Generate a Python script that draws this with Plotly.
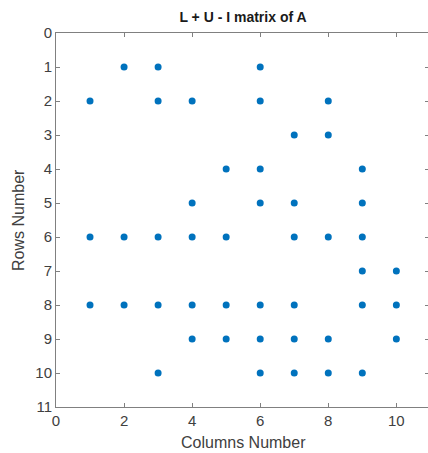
import plotly.graph_objects as go

# Nonzero pattern of L + U - I, listed row by row (1-based indices)
rows = [1, 1, 1,
        2, 2, 2, 2, 2,
        3, 3,
        4, 4, 4,
        5, 5, 5, 5,
        6, 6, 6, 6, 6, 6, 6, 6,
        7, 7,
        8, 8, 8, 8, 8, 8, 8, 8, 8,
        9, 9, 9, 9, 9, 9,
        10, 10, 10, 10, 10]
cols = [2, 3, 6,
        1, 3, 4, 6, 8,
        7, 8,
        5, 6, 9,
        4, 6, 7, 9,
        1, 2, 3, 4, 5, 7, 8, 9,
        9, 10,
        1, 2, 3, 4, 5, 6, 7, 9, 10,
        4, 5, 6, 7, 8, 10,
        3, 6, 7, 8, 9]

x_ticks = [0, 2, 4, 6, 8, 10]
y_ticks = list(range(0, 12))

W, H = 428, 453
ML, MR, MT, MB = 56, 0, 33, 46
axis_col = "#808080"
text_col = "#404040"
font_family = "Liberation Sans, Arial, sans-serif"

fig = go.Figure(
    go.Scatter(
        x=cols, y=rows, mode="markers",
        marker=dict(color="#0072BD", size=7, line=dict(width=0)),
        hoverinfo="x+y",
    )
)

fig.update_layout(
    width=W, height=H,
    margin=dict(l=ML, r=MR, t=MT, b=MB, pad=0),
    paper_bgcolor="white", plot_bgcolor="white",
    showlegend=False,
    font=dict(family=font_family, color=text_col, size=13),
    title=dict(
        text="<b>L + U - I matrix of A</b>",
        x=(243 - ML) / (W - ML - MR), xref="paper", xanchor="center",
        y=1 - 17 / H, yref="container", yanchor="middle",
        font=dict(size=14, color="#1a1a1a", family=font_family),
    ),
    # right-hand tick marks only (the box edge itself sits just past the page)
    yaxis2=dict(
        overlaying="y", side="right", range=[11, 0], tickvals=y_ticks,
        showticklabels=False, showgrid=False, zeroline=False, showline=False,
        ticks="inside", ticklen=3, tickcolor=axis_col, tickwidth=1,
    ),
)

fig.update_xaxes(
    range=[0, 10.93], tickvals=x_ticks, ticktext=[str(v) for v in x_ticks],
    showgrid=False, zeroline=False,
    showline=True, linecolor=axis_col, linewidth=1, mirror="ticks",
    ticks="inside", ticklen=4, tickcolor=axis_col, tickwidth=1,
    tickfont=dict(size=15, color=text_col),
)
fig.update_yaxes(
    selector=dict(anchor="x"),
    range=[11, 0], tickvals=y_ticks, ticktext=[str(v) for v in y_ticks],
    showgrid=False, zeroline=False,
    showline=True, linecolor=axis_col, linewidth=1, mirror=False,
    ticks="inside", ticklen=4, tickcolor=axis_col, tickwidth=1,
    tickfont=dict(size=15, color=text_col),
)
fig.layout.yaxis.update(
    range=[11, 0], tickvals=y_ticks, ticktext=[str(v) for v in y_ticks],
    showgrid=False, zeroline=False,
    showline=True, linecolor=axis_col, linewidth=1, mirror=False,
    ticks="inside", ticklen=4, tickcolor=axis_col, tickwidth=1,
    tickfont=dict(size=15, color=text_col),
)
# invisible trace so the right-hand axis is drawn
fig.add_trace(go.Scatter(x=[None], y=[None], yaxis="y2", showlegend=False,
                         hoverinfo="skip"))

fig.add_annotation(
    text="Columns Number", xref="paper", yref="paper",
    x=(243 - ML) / (W - ML - MR), y=0, xanchor="center", yanchor="middle",
    yshift=-35, showarrow=False, font=dict(size=16, color=text_col),
)
fig.add_annotation(
    text="Rows Number", xref="paper", yref="paper",
    x=0, y=0.5, xanchor="center", yanchor="middle", textangle=-90,
    xshift=-38, showarrow=False, font=dict(size=16, color=text_col),
)

fig.write_html("out.html")
